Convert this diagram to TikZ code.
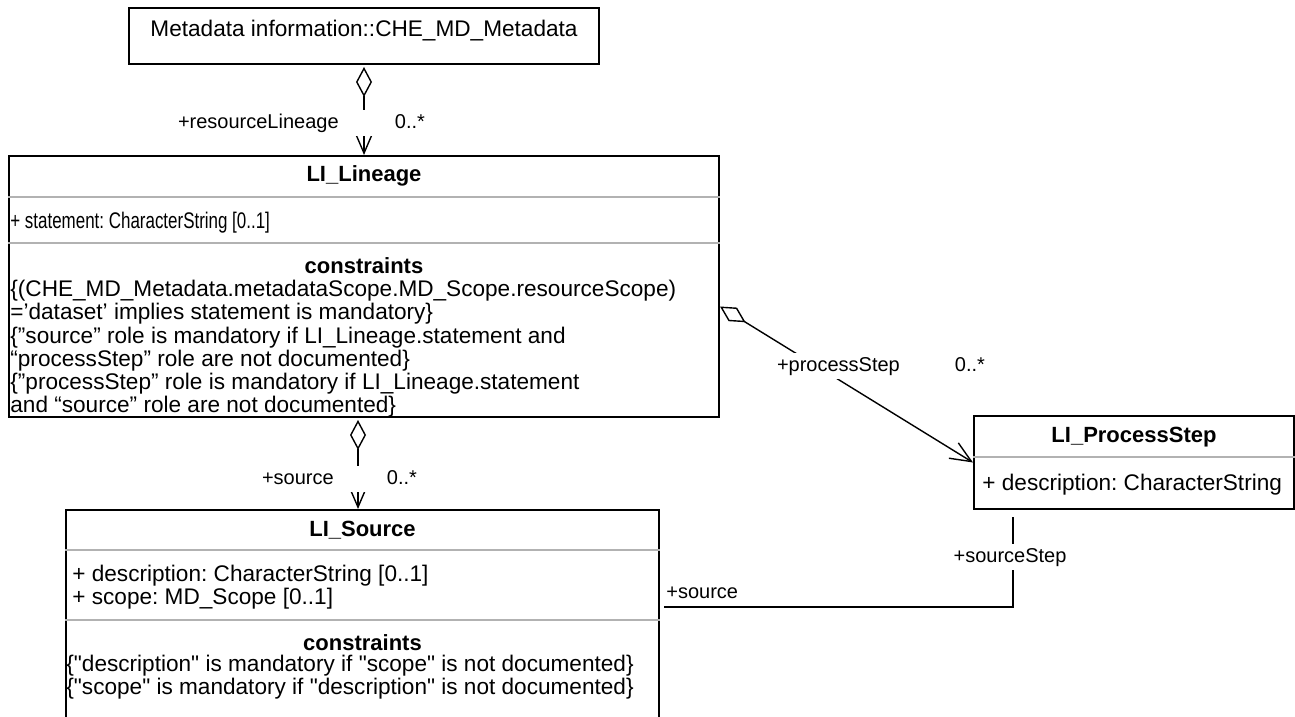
\documentclass[tikz,border=0pt]{standalone}
\usepackage{fontspec}
\setmainfont{Liberation Sans}
\usepackage{tikz}
\usetikzlibrary{arrows.meta}
\usetikzlibrary{positioning}

\newcommand{\qq}{\textquotedbl}

\tikzset{
  classbox/.style={draw, line width=1pt, anchor=north west, inner sep=0pt},
  compsep/.style={draw=gray!60, line width=1pt},
  boxtext/.style={inner sep=0pt, align=left, font=\fontsize{11.3}{11.6}\selectfont\frenchspacing},
  boxtitle/.style={inner sep=0pt, font=\fontsize{11}{11.6}\selectfont\bfseries},
  aggr/.style={line width=0.7pt, {Diamond[open,length=15pt,width=8pt]}-{Straight Barb[length=10.5pt,width=9pt]}},
  assoc/.style={line width=0.7pt},
  rolelbl/.style={fill=white, inner xsep=0pt, inner ysep=1.5pt, text height=7.5pt, text depth=2.5pt, font=\fontsize{10}{12}\selectfont}
}

\begin{document}
\begin{tikzpicture}[x=0.5pt, y=-0.5pt]
  \useasboundingbox (0,0) rectangle (1295,717);
  \fill[white] (0,0) rectangle (1295,717);

  \node[classbox, minimum width=235pt, minimum height=28pt] (meta) at (128,7) {};
  \node[boxtext, below=6.5pt of meta.north] (metaname) {Metadata information::CHE\_MD\_Metadata};

  \node[classbox, minimum width=355pt, minimum height=130.5pt] (lineage) at (8,155) {};
  \draw[compsep] ([yshift=-21pt]lineage.north west) -- ([yshift=-21pt]lineage.north east);
  \draw[compsep] ([yshift=-44pt]lineage.north west) -- ([yshift=-44pt]lineage.north east);
  \node[boxtitle, below=5pt of lineage.north] (lineagename) {LI\_Lineage};
  \node[boxtext, below right=28.5pt and 1pt of lineage.north west] (lineageattr)
    {\scalebox{0.75}[1]{+ statement: CharacterString [0..1]}};
  \node[boxtitle, below=51pt of lineage.north] (lineagecons) {constraints};
  \node[boxtext, below right=62.5pt and 1pt of lineage.north west] (lineagerules)
    {\{(CHE\_MD\_Metadata.metadataScope.MD\_Scope.resourceScope)\\
     =’dataset’ implies statement is mandatory\}\\
     \{”source” role is mandatory if LI\_Lineage.statement and\\
     “processStep” role are not documented\}\\
     \{”processStep” role is mandatory if LI\_Lineage.statement\\
     and “source” role are not documented\}};

  \node[classbox, minimum width=160pt, minimum height=46.5pt] (step) at (973,415) {};
  \draw[compsep] ([yshift=-21pt]step.north west) -- ([yshift=-21pt]step.north east);
  \node[boxtitle, below=6pt of step.north] (stepname) {LI\_ProcessStep};
  \node[boxtext, below right=29.5pt and 4.5pt of step.north west] (stepattr) {+ description: CharacterString};

  \node[classbox, minimum width=296.5pt, minimum height=115pt] (source) at (65,509) {};
  \draw[compsep] ([yshift=-20.5pt]source.north west) -- ([yshift=-20.5pt]source.north east);
  \draw[compsep] ([yshift=-55.5pt]source.north west) -- ([yshift=-55.5pt]source.north east);
  \node[boxtitle, below=6pt of source.north] (sourcename) {LI\_Source};
  \node[boxtext, below right=28pt and 3.5pt of source.north west] (sourceattr)
    {+ description: CharacterString [0..1]\\
     + scope: MD\_Scope [0..1]};
  \node[boxtitle, below=62.5pt of source.north] (sourcecons) {constraints};
  \node[boxtext, below right=73pt and 0.5pt of source.north west] (sourcerules)
    {\{\qq description\qq{} is mandatory if \qq scope\qq{} is not documented\}\\
     \{\qq scope\qq{} is mandatory if \qq description\qq{} is not documented\}};

  \draw[aggr, shorten <=1pt] (meta.south) -- (lineage.north);
  \node[rolelbl, text width=123.5pt] (lineagerole) at (301.5,123) {+resourceLineage\hfill 0..*};

  \draw[aggr] ([yshift=-10pt]lineage.east) -- (step.west);
  \node[rolelbl, text width=104pt] (steprole) at (881,366) {+processStep\hfill 0..*};

  \draw[aggr, shorten <=1pt] ([xshift=-3pt]lineage.south) -- ([xshift=-3pt]lineage.south |- source.north);
  \node[rolelbl, text width=77.5pt] (sourcerole) at (339.5,479) {+source\hfill 0..*};

  \draw[assoc, shorten <=3.5pt, shorten >=2pt] ([xshift=-60.5pt]step.south) |- ([yshift=-49pt]source.north east);
  \node[rolelbl, inner xsep=1pt] (stepsource) at (1010,557) {+sourceStep};
  \node[rolelbl, anchor=west] (sourcestep) at (666,593) {+source};
\end{tikzpicture}
\end{document}
